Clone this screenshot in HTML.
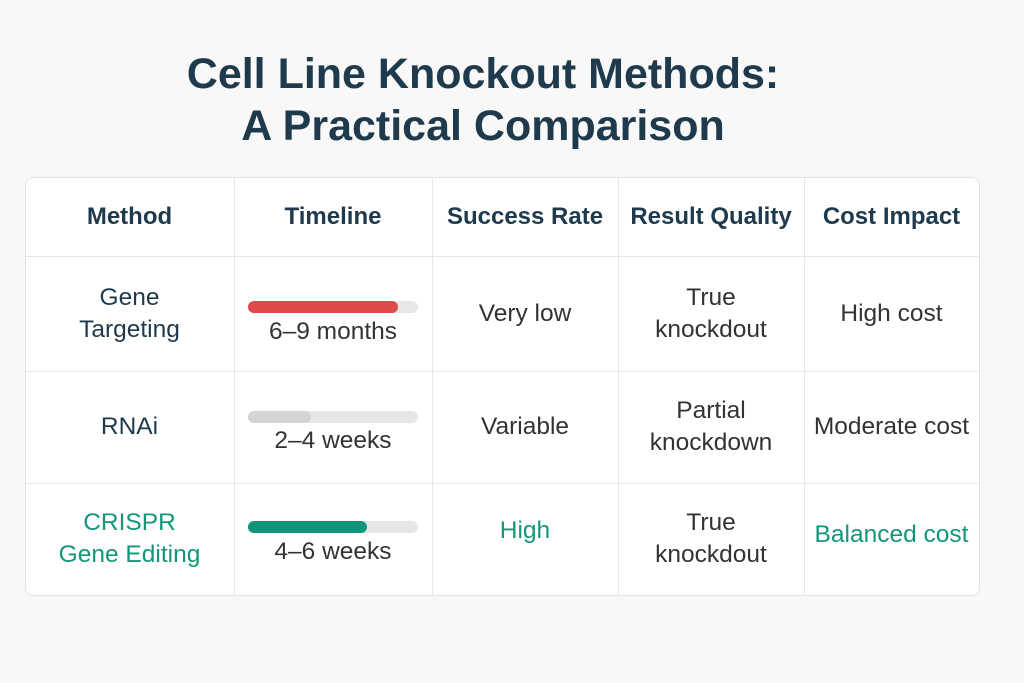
<!DOCTYPE html>
<html><head><style>
body{margin:0;width:1024px;height:683px;background:#f8f8f8;font-family:"Liberation Sans",sans-serif;position:relative;overflow:hidden}
.t{position:absolute;left:0;width:966px;text-align:center;font-weight:bold;font-size:43px;color:#1e3a4c}
.tb{position:absolute;left:25px;top:177px;width:953px;height:417px;background:#fff;border:1px solid #e2e2e2;border-radius:8px}
.v{position:absolute;top:177px;height:419px;width:1px;background:#e6e6e6}
.h{position:absolute;left:25px;width:955px;height:1px;background:#e6e6e6}
.c{position:absolute;text-align:center;font-size:24.5px;line-height:32px;color:#333;display:flex;align-items:center;justify-content:center;white-space:nowrap}
.hd{font-weight:bold;color:#1e3a4c;font-size:24px}
.nv{color:#1e3a4c}
.g{color:#14967a}
.bar{position:absolute;left:248px;width:170px;height:12px;border-radius:6px;background:#e6e7e8}
.bar i{position:absolute;left:0;top:0;height:12px;border-radius:6px}
</style></head><body>
<div class="t" style="top:50px">Cell Line Knockout Methods:</div>
<div class="t" style="top:102px">A Practical Comparison</div>
<div class="tb"></div>
<div class="v" style="left:234px"></div><div class="v" style="left:432px"></div><div class="v" style="left:618px"></div><div class="v" style="left:804px"></div>
<div class="h" style="top:256px"></div><div class="h" style="top:371px"></div><div class="h" style="top:483px"></div>
<div class="c hd" style="left:25px;width:209px;top:177px;height:79px">Method</div>
<div class="c hd" style="left:234px;width:198px;top:177px;height:79px">Timeline</div>
<div class="c hd" style="left:432px;width:186px;top:177px;height:79px">Success Rate</div>
<div class="c hd" style="left:618px;width:186px;top:177px;height:79px">Result Quality</div>
<div class="c hd" style="left:804px;width:175px;top:177px;height:79px">Cost Impact</div>

<div class="c nv" style="left:25px;width:209px;top:256px;height:115px">Gene<br>Targeting</div>
<div class="bar" style="top:301px"><i style="width:150px;background:#e04a4a"></i></div>
<div class="c" style="left:234px;width:198px;top:316px;height:32px">6–9 months</div>
<div class="c" style="left:432px;width:186px;top:256px;height:115px">Very low</div>
<div class="c" style="left:618px;width:186px;top:256px;height:115px">True<br>knockdout</div>
<div class="c" style="left:804px;width:175px;top:256px;height:115px">High cost</div>

<div class="c nv" style="left:25px;width:209px;top:371px;height:112px">RNAi</div>
<div class="bar" style="top:411px"><i style="width:63px;background:#d4d4d4"></i></div>
<div class="c" style="left:234px;width:198px;top:425px;height:32px">2–4 weeks</div>
<div class="c" style="left:432px;width:186px;top:371px;height:112px">Variable</div>
<div class="c" style="left:618px;width:186px;top:371px;height:112px">Partial<br>knockdown</div>
<div class="c" style="left:804px;width:175px;top:371px;height:112px">Moderate cost</div>

<div class="c g" style="left:25px;width:209px;top:483px;height:112px">CRISPR<br>Gene Editing</div>
<div class="bar" style="top:521px"><i style="width:119px;background:#0f957a"></i></div>
<div class="c" style="left:234px;width:198px;top:536px;height:32px">4–6 weeks</div>
<div class="c g" style="left:432px;width:186px;top:483px;height:96px">High</div>
<div class="c" style="left:618px;width:186px;top:483px;height:112px">True<br>knockdout</div>
<div class="c g" style="left:804px;width:175px;top:483px;height:104px">Balanced cost</div>
</body></html>
